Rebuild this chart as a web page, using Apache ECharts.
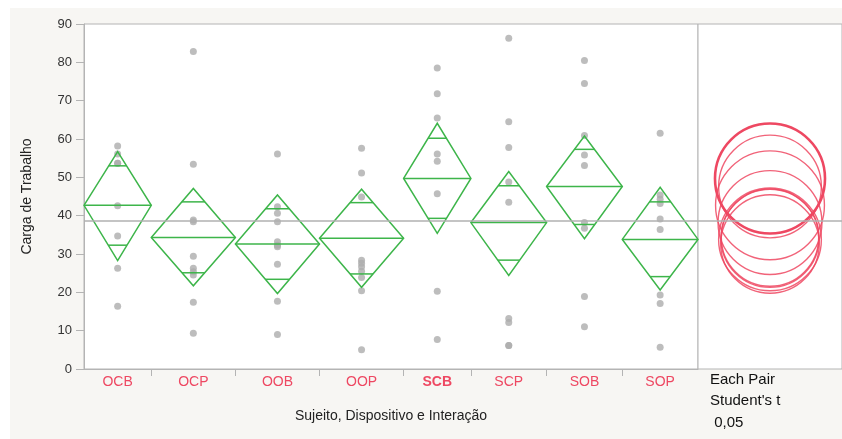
<!DOCTYPE html>
<html>
<head>
<meta charset="utf-8">
<script src="https://cdn.jsdelivr.net/npm/echarts@6/dist/echarts.min.js"></script>
<style>
html,body{margin:0;padding:0;background:#fff;}
#c{width:842px;height:439px;}
</style>
</head>
<body>
<div id="c"></div>
<script>
// ---- data ----
const categories = ['OCB', 'OCP', 'OOB', 'OOP', 'SCB', 'SCP', 'SOB', 'SOP'];
const selectedGroup = 'SCB';
const groupSizes = [8, 10, 10, 10, 8, 9, 9, 9];
const means = [42.7, 34.3, 32.6, 34.1, 49.7, 38.2, 47.6, 33.8];
const ciUpper = [56.7, 47.1, 45.4, 46.9, 64.1, 51.5, 60.8, 47.4];
const ciLower = [28.3, 21.7, 19.7, 21.3, 35.4, 24.4, 34.0, 20.6];
const overlapUpper = [53.0, 43.6, 41.8, 43.4, 60.2, 47.8, 57.3, 43.6];
const overlapLower = [32.3, 25.1, 23.4, 24.8, 39.3, 28.4, 37.7, 24.1];
const grandMean = 38.7;
const ptsOCB = [58.2, 56.1, 53.7, 53.7, 42.6, 34.7, 26.3, 16.4];
const ptsOCP = [82.8, 53.4, 38.9, 38.4, 29.4, 26.3, 25.4, 24.5, 17.4, 9.3];
const ptsOOB = [56.1, 42.3, 40.6, 38.4, 33.2, 32.3, 31.9, 27.3, 17.7, 9.0];
const ptsOOP = [57.6, 51.1, 44.9, 28.4, 27.6, 26.7, 25.5, 23.9, 20.4, 5.0];
const ptsSCB = [78.5, 71.8, 65.5, 56.1, 54.2, 45.7, 20.3, 7.7];
const ptsSCP = [86.3, 64.5, 57.8, 48.8, 43.5, 13.2, 12.1, 6.1, 6.1];
const ptsSOB = [80.5, 74.5, 60.9, 55.8, 53.1, 38.2, 36.7, 18.9, 11.0];
const ptsSOP = [61.5, 45.4, 44.3, 43.2, 39.1, 36.4, 19.3, 17.1, 5.7];
const groupPoints = [ptsOCB, ptsOCP, ptsOOB, ptsOOP, ptsSCB, ptsSCP, ptsSOB, ptsSOP];
const yTicks = [0, 10, 20, 30, 40, 50, 60, 70, 80, 90];
const testLines = ['Each Pair', "Student's t", ' 0,05'];

// ---- derived layout on the group-size scale ----
const bounds = [];
let acc = 0;
groupSizes.forEach(n => { bounds.push([acc, acc + n]); acc += n; });
const total = acc;
const centers = bounds.map(b => (b[0] + b[1]) / 2);
const innerTicks = bounds.slice(0, -1).map(b => b[1]);

const diamondData = categories.map((c, i) => [bounds[i][0], bounds[i][1], means[i], ciLower[i], ciUpper[i], overlapLower[i], overlapUpper[i]]);
const scatterData = [];
groupPoints.forEach((arr, i) => arr.forEach(v => scatterData.push([centers[i], v])));
const circleData = categories.map((c, i) => [0.5, means[i], (ciUpper[i] - ciLower[i]) / 2, c === selectedGroup ? 1 : 0]);

const GREEN = '#3db54a';
const RED = '#ee4862';
const AX = '#b4b4b4';
const FONT = 'Liberation Sans, Arial, Helvetica, sans-serif';

const chart = echarts.init(document.getElementById('c'), null, {renderer: 'canvas'});

const option = {
  backgroundColor: '#ffffff',
  animation: false,
  textStyle: {fontFamily: FONT},
  graphic: [
    {type: 'rect', z: -100, silent: true, shape: {x: 10, y: 8, width: 832, height: 431}, style: {fill: '#f7f6f3'}},
    {type: 'text', left: 710, top: 372, z: 100, style: {text: testLines[0], font: '15px ' + FONT, fill: '#111'}},
    {type: 'text', left: 710, top: 393, z: 100, style: {text: testLines[1], font: '15px ' + FONT, fill: '#111'}},
    {type: 'text', left: 710, top: 415, z: 100, style: {text: testLines[2], font: '15px ' + FONT, fill: '#111'}}
  ],
  grid: [
    {left: 84, top: 24, width: 614, height: 345, show: true, backgroundColor: '#fff', borderColor: AX, borderWidth: 1},
    {left: 698, top: 24, width: 144, height: 345, show: true, backgroundColor: '#fff', borderColor: AX, borderWidth: 1}
  ],
  xAxis: [
    {
      gridIndex: 0, type: 'value', min: 0, max: total,
      name: 'Sujeito, Dispositivo e Interação', nameLocation: 'middle', nameGap: 40,
      nameTextStyle: {fontSize: 14, color: '#222', fontFamily: FONT},
      axisLine: {show: true, lineStyle: {color: AX}},
      axisTick: {show: true, length: 7, customValues: innerTicks, lineStyle: {color: AX}},
      splitLine: {show: false},
      axisLabel: {
        customValues: centers, margin: 6,
        formatter: function (v) {
          let k = 0, best = Infinity;
          centers.forEach((c, i) => { const d = Math.abs(c - v); if (d < best) { best = d; k = i; } });
          return categories[k] === selectedGroup ? '{b|' + categories[k] + '}' : '{n|' + categories[k] + '}';
        },
        rich: {
          n: {color: RED, fontSize: 14, fontFamily: FONT},
          b: {color: RED, fontSize: 14, fontWeight: 'bold', fontFamily: FONT}
        }
      }
    },
    {gridIndex: 1, type: 'value', min: 0, max: 1, show: false}
  ],
  yAxis: [
    {
      gridIndex: 0, type: 'value', min: yTicks[0], max: yTicks[yTicks.length - 1], interval: 10,
      name: 'Carga de Trabalho', nameLocation: 'middle', nameGap: 50,
      nameTextStyle: {fontSize: 14, color: '#222', fontFamily: FONT},
      axisLine: {show: true, lineStyle: {color: AX}},
      axisTick: {show: true, length: 8, lineStyle: {color: AX}},
      splitLine: {show: false},
      axisLabel: {color: '#333', fontSize: 13, margin: 12, fontFamily: FONT}
    },
    {gridIndex: 1, type: 'value', min: 0, max: 90, show: false}
  ],
  series: [
    {
      type: 'scatter', xAxisIndex: 0, yAxisIndex: 0, data: scatterData,
      symbolSize: 7, itemStyle: {color: '#adadad'}, z: 2, silent: true,
      markLine: {silent: true, symbol: 'none', label: {show: false},
        lineStyle: {color: '#b0b0b0', width: 1.5, type: 'solid'}, data: [{yAxis: grandMean}]}
    },
    {
      type: 'custom', xAxisIndex: 0, yAxisIndex: 0, data: diamondData, z: 3, silent: true,
      renderItem: function (params, api) {
        const x0 = api.value(0), x1 = api.value(1), m = api.value(2), lo = api.value(3), hi = api.value(4), ol = api.value(5), oh = api.value(6);
        const pL = api.coord([x0, m]), pR = api.coord([x1, m]);
        const xc = (pL[0] + pR[0]) / 2;
        const yHi = api.coord([x0, hi])[1], yLo = api.coord([x0, lo])[1];
        const yOh = api.coord([x0, oh])[1], yOl = api.coord([x0, ol])[1];
        const hw = (pR[0] - pL[0]) / 2;
        const wU = hw * (yOh - yHi) / (pL[1] - yHi);
        const wD = hw * (yLo - yOl) / (yLo - pL[1]);
        const st = {stroke: GREEN, lineWidth: 1.5, fill: null};
        return {
          type: 'group',
          children: [
            {type: 'polygon', shape: {points: [[pL[0], pL[1]], [xc, yHi], [pR[0], pR[1]], [xc, yLo]]}, style: st},
            {type: 'line', shape: {x1: pL[0], y1: pL[1], x2: pR[0], y2: pR[1]}, style: st},
            {type: 'line', shape: {x1: xc - wU, y1: yOh, x2: xc + wU, y2: yOh}, style: st},
            {type: 'line', shape: {x1: xc - wD, y1: yOl, x2: xc + wD, y2: yOl}, style: st}
          ]
        };
      }
    },
    {
      type: 'custom', xAxisIndex: 1, yAxisIndex: 1, data: circleData, z: 3, silent: true,
      renderItem: function (params, api) {
        const c = api.coord([api.value(0), api.value(1)]);
        const t = api.coord([api.value(0), api.value(1) + api.value(2)]);
        const r = c[1] - t[1];
        const sel = api.value(3) === 1;
        return {type: 'circle', shape: {cx: c[0], cy: c[1], r: r},
          style: {stroke: RED, fill: null, lineWidth: sel ? 2.6 : 1.4, opacity: sel ? 1 : 0.85}};
      },
      markLine: {silent: true, symbol: 'none', label: {show: false},
        lineStyle: {color: '#b0b0b0', width: 1.5, type: 'solid'}, data: [{yAxis: grandMean}]}
    }
  ]
};
chart.setOption(option);
</script>
</body>
</html>
